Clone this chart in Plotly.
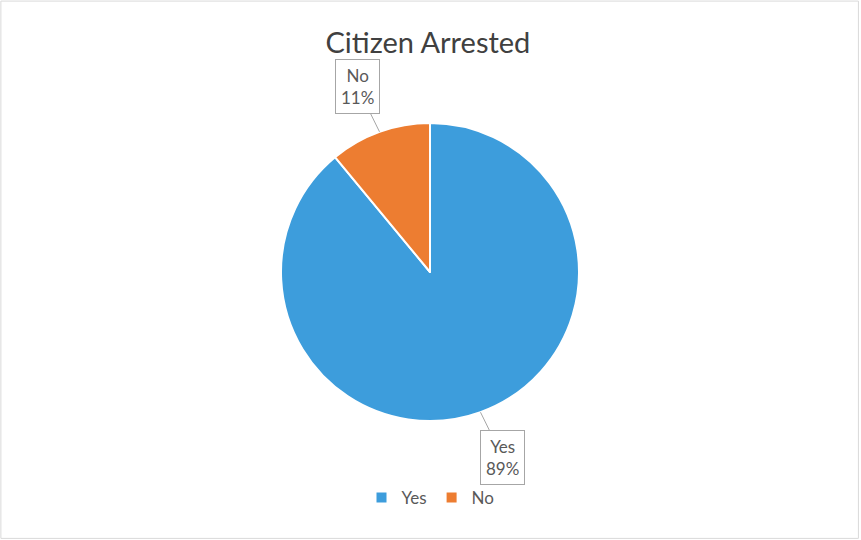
import math
import plotly.graph_objects as go

title = "Citizen Arrested"
labels = ["Yes", "No"]
values = [89, 11]
colors = ["#3d9ddc", "#ed7d31"]

W, H = 861, 540
cx, cy, R = 430, 272, 149
label_dist = 200
FONT = "Lato, Liberation Sans, sans-serif"

fig = go.Figure()
fig.add_trace(go.Pie(
    labels=labels, values=values, sort=False, direction="clockwise", rotation=0,
    marker=dict(colors=colors, line=dict(color="white", width=2)),
    textinfo="none", hoverinfo="label+percent",
    domain=dict(x=[(cx - R) / W, (cx + R) / W], y=[1 - (cy + R) / H, 1 - (cy - R) / H]),
))

total = sum(values)
cum = 0
annotations = []
for lab, v in zip(labels, values):
    mid = (cum + v / 2) / total * 2 * math.pi
    cum += v
    s, c = math.sin(mid), math.cos(mid)
    ex, ey = cx + R * s, cy - R * c
    pct = round(v / total * 100)
    annotations.append(dict(
        x=ex / W, y=1 - ey / H, xref="paper", yref="paper",
        text=f"{lab}<br>{pct}%", showarrow=True, arrowhead=0, arrowwidth=1,
        arrowcolor="#a6a6a6", standoff=0,
        ax=(label_dist - R) * s * 1.3, ay=-(label_dist - R) * c * 0.95,
        font=dict(size=17, color="#595959", family=FONT),
        bgcolor="white", bordercolor="#a6a6a6", borderwidth=1, borderpad=5,
    ))

fig.update_layout(
    width=W, height=H,
    margin=dict(l=0, r=0, t=0, b=0),
    paper_bgcolor="white", plot_bgcolor="white",
    title=dict(text=title, x=0.497, xanchor="center", y=1 - 43 / H, yanchor="middle",
               font=dict(size=29, color="#404040", family=FONT)),
    legend=dict(orientation="h", x=0.5, xanchor="center", y=1 - 498 / H, yanchor="middle",
                font=dict(size=17, color="#595959", family=FONT),
                traceorder="normal"),
    annotations=annotations,
    shapes=[dict(type="rect", xref="paper", yref="paper", x0=0.001, y0=0.003, x1=0.997, y1=0.998,
                 line=dict(color="#d9d9d9", width=1))],
)

fig.write_html("out.html", config={"displayModeBar": False},
               post_script="document.body.style.margin='0';")
